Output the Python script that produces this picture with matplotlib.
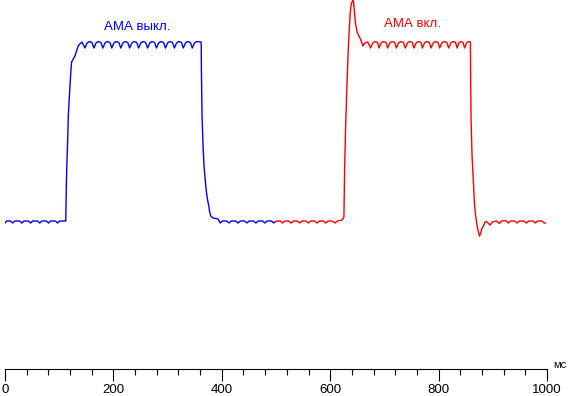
import matplotlib
matplotlib.use("Agg")
import matplotlib.pyplot as plt
from matplotlib.ticker import MultipleLocator

plt.rcParams['font.family'] = ['Liberation Sans', 'DejaVu Sans']

# --- data (time in ms, level in arbitrary units)
blue_t = [
    0, 3, 10, 14.6, 18, 27, 31.1, 35, 43, 47.6, 51, 60, 64.1, 68, 76,
    80.6, 84, 93, 97.1, 101, 110, 112,
    112.4, 113.7, 115.5, 116.7, 118.5, 120.3, 121.6, 122.9, 125.9, 129, 132, 135, 138, 142,
    147.5, 151.5, 155.5, 160.5, 164, 168, 172, 177, 180.5, 184.5, 188.5, 193.5,
    197, 201, 205, 210, 213.5, 217.5, 221.5, 226.5, 230, 234, 238, 243,
    246.5, 250.5, 254.5, 259.5, 263, 267, 271, 276, 279.5, 283.5, 287.5, 292.5,
    296, 300, 304, 309, 312.5, 316.5, 320.5, 325.5, 329, 333, 337, 342,
    345.5, 349.5, 353.5, 362,
    362.4, 363.6, 365.5, 367.3, 369.8, 371.6, 373.5, 375.9, 377.7, 379.6, 383.9, 393,
    397, 401, 409, 413.5, 417.5, 425.5, 430, 434, 442, 446.5, 450.5, 458.5,
    463, 467, 475, 479.5, 483.5, 491.5, 496, 498]
blue_v = [
    146, 148, 148, 146, 148, 148, 146, 148, 148, 146, 148, 148, 146, 148, 148,
    146, 148, 148, 146, 148, 148, 148,
    160, 197, 227, 252, 270, 287, 298, 307, 310, 313, 318, 323, 325, 327,
    321, 326, 327.5, 326.5, 321, 326, 327.5, 326.5, 321, 326, 327.5, 326.5,
    321, 326, 327.5, 326.5, 321, 326, 327.5, 326.5, 321, 326, 327.5, 326.5,
    321, 326, 327.5, 326.5, 321, 326, 327.5, 326.5, 321, 326, 327.5, 326.5,
    321, 326, 327.5, 326.5, 321, 326, 327.5, 326.5, 321, 326, 327.5, 326.5,
    321, 326, 327.5, 327,
    297, 252, 222, 202, 187, 177, 170, 163, 157, 153, 151, 150,
    146, 148, 148, 146, 148, 148, 146, 148, 148, 146, 148, 148,
    146, 148, 148, 146, 148, 148, 146, 147]

red_t = [
    498, 502, 508,
    512, 516, 523, 528, 532, 539, 544, 548, 555, 560, 564, 571,
    576, 580, 587, 592, 596, 603, 609, 613, 622,
    625.3, 626.5, 628.3, 630.8, 632.6, 634.5, 637, 638.8, 641.9, 643.1,
    645, 646.8, 649.3, 651.1, 654.1, 657.2, 660.3, 664, 669,
    674.5, 678.5, 682.5, 687.5, 690, 694, 698, 703, 706, 710, 714, 719,
    722, 726, 730, 735, 738.5, 742.5, 746.5, 751.5, 754.5, 758.5, 762.5, 767.5,
    770, 774, 778, 783, 786, 790, 794, 799, 802, 806, 810, 815,
    818.5, 822.5, 826.5, 831.5, 834, 837.5, 841, 845, 848, 851.5, 855, 858.7,
    858.9, 859.9, 861.7, 864.2, 866, 867.9, 869.7, 872.2, 875.3, 877.1, 879.6, 882.7, 885.8, 888.8,
    895, 899, 907, 912, 916, 924, 928.5, 932.5, 940.5, 945, 949, 957,
    962, 966, 974, 978.5, 982.5, 990.5, 995, 997]
red_v = [
    147, 148, 148,
    146, 148, 148, 146, 148, 148, 146, 148, 148, 146, 148, 148,
    146, 148, 148, 146, 148, 148, 146, 148, 149,
    152, 197, 240, 282, 310, 333, 357, 365, 369, 367,
    355, 345, 338, 335, 332, 328, 323, 326, 327,
    321, 326, 327.5, 326.5, 321, 326, 327.5, 326.5, 321, 326, 327.5, 326.5,
    321, 326, 327.5, 326.5, 321, 326, 327.5, 326.5, 321, 326, 327.5, 326.5,
    321, 326, 327.5, 326.5, 321, 326, 327.5, 326.5, 321, 326, 327.5, 326.5,
    321, 326, 327.5, 326.5, 321, 326, 327.5, 326.5, 321, 326, 327.5, 327,
    307, 250, 213, 187, 167, 155, 148, 140, 133, 135, 140, 143, 147, 147.3,
    144, 147, 148, 145.5, 148, 148.3, 146, 148, 148, 146, 148, 148,
    146, 148, 148, 146, 148, 148, 146, 146]

labels = ['АМА выкл.', 'АМА вкл.']
x_major = [0, 200, 400, 600, 800, 1000]
unit = 'мс'

W, H = 569, 396
fig = plt.figure(figsize=(W / 100, H / 100), dpi=100)
ax = fig.add_axes([5 / W, (H - 369) / H, 542 / W, 369 / H])

ax.plot(blue_t, blue_v, color='#0000ff', lw=1.0)
ax.plot(red_t, red_v, color='#ff0000', lw=1.0)

ax.text(244, 342, labels[0], color='#0000ff', fontsize=9.5, ha='center', va='center')
ax.text(752, 345, labels[1], color='#ff0000', fontsize=9.5, ha='center', va='center')

ax.set_xlim(0, 1000)
ax.set_ylim(0, 369)
for s in ['top', 'left', 'right']:
    ax.spines[s].set_visible(False)
ax.spines['bottom'].set_linewidth(0.8)
ax.set_yticks([])
ax.set_xticks(x_major)
ax.set_xticklabels([str(v) for v in x_major])
ax.xaxis.set_minor_locator(MultipleLocator(40))
ax.tick_params(axis='x', which='major', length=8.6, width=0.8, pad=2, labelsize=9.5)
ax.tick_params(axis='x', which='minor', length=4.3, width=0.8)
ax.patch.set_visible(False)

fig.text(553 / W, 1 - 365 / H, unit, fontsize=8, ha='left', va='center')

fig.savefig('out.png', dpi=100)
